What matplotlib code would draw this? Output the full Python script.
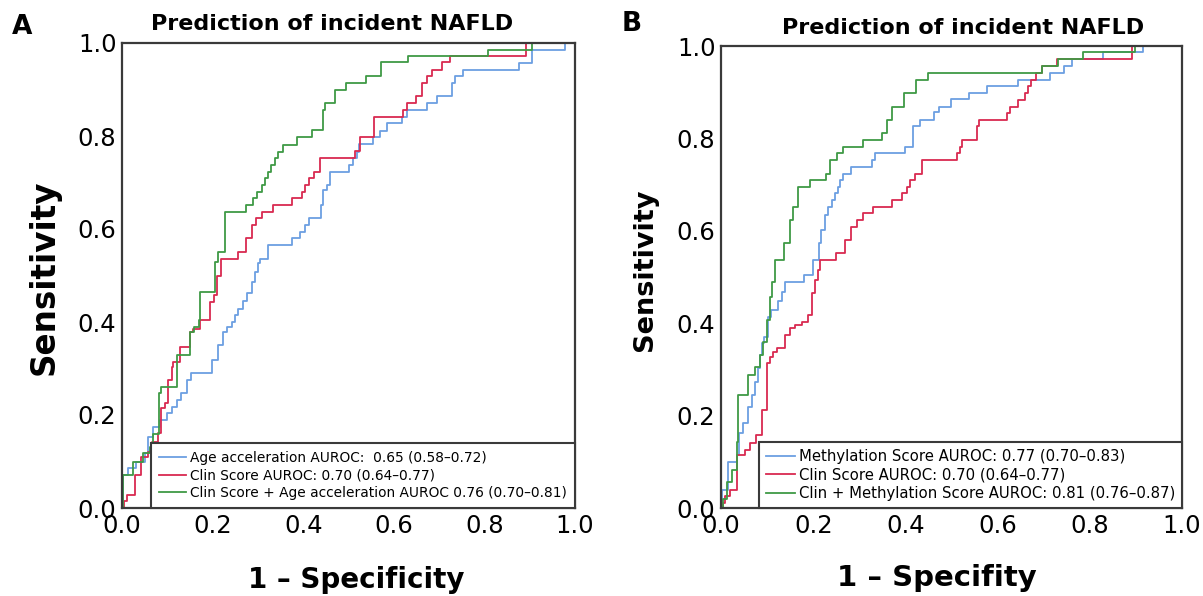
import matplotlib
matplotlib.use("Agg")
import matplotlib.pyplot as plt

# ---- panel A: ROC step points (fpr where the curve rises, tpr after rise)
a_age_fpr = [0, 0.003, 0.014, 0.032, 0.051, 0.058, 0.069, 0.084, 0.099, 0.11, 0.121, 0.13,
             0.143, 0.152, 0.198, 0.213, 0.224, 0.231, 0.242, 0.249, 0.257, 0.268, 0.275,
             0.286, 0.294, 0.301, 0.305, 0.323, 0.375, 0.393, 0.404, 0.412, 0.439, 0.444,
             0.452, 0.459, 0.502, 0.51, 0.518, 0.524, 0.555, 0.57, 0.584, 0.617, 0.63,
             0.673, 0.695, 0.728, 0.735, 0.753, 0.877, 0.904, 0.979, 1.0]
a_age_tpr = [0, 0.071, 0.085, 0.10, 0.118, 0.153, 0.175, 0.189, 0.204, 0.218, 0.232, 0.247,
             0.275, 0.29, 0.318, 0.351, 0.379, 0.39, 0.40, 0.415, 0.429, 0.445, 0.462,
             0.487, 0.508, 0.526, 0.535, 0.566, 0.58, 0.594, 0.609, 0.623, 0.652, 0.684,
             0.695, 0.723, 0.738, 0.752, 0.766, 0.782, 0.797, 0.811, 0.827, 0.841, 0.856,
             0.87, 0.885, 0.913, 0.928, 0.942, 0.956, 0.986, 1.0, 1.0]

a_clin_fpr = [0, 0.004, 0.01, 0.029, 0.043, 0.058, 0.066, 0.080, 0.087, 0.095, 0.102, 0.11,
              0.113, 0.128, 0.15, 0.157, 0.172, 0.194, 0.202, 0.209, 0.218, 0.255, 0.274,
              0.288, 0.295, 0.308, 0.334, 0.375, 0.397, 0.405, 0.413, 0.424, 0.437, 0.514,
              0.525, 0.556, 0.621, 0.63, 0.649, 0.662, 0.673, 0.685, 0.707, 0.724, 0.892, 1.0]
a_clin_tpr = [0, 0.014, 0.028, 0.071, 0.11, 0.121, 0.143, 0.161, 0.214, 0.225, 0.275, 0.304,
              0.315, 0.347, 0.379, 0.386, 0.404, 0.444, 0.458, 0.50, 0.535, 0.551, 0.58,
              0.609, 0.623, 0.637, 0.652, 0.666, 0.68, 0.695, 0.709, 0.723, 0.753, 0.768,
              0.797, 0.84, 0.856, 0.87, 0.885, 0.915, 0.929, 0.943, 0.959, 0.972, 1.0, 1.0]

a_comb_fpr = [0, 0.003, 0.025, 0.047, 0.062, 0.069, 0.082, 0.087, 0.121, 0.150, 0.158, 0.169,
              0.172, 0.205, 0.213, 0.227, 0.274, 0.29, 0.297, 0.308, 0.316, 0.323, 0.330,
              0.338, 0.345, 0.355, 0.387, 0.42, 0.443, 0.448, 0.47, 0.494, 0.539, 0.572,
              0.632, 0.809, 0.904, 1.0]
a_comb_tpr = [0, 0.071, 0.10, 0.118, 0.132, 0.16, 0.247, 0.26, 0.329, 0.379, 0.39, 0.404,
              0.465, 0.53, 0.551, 0.637, 0.652, 0.666, 0.68, 0.695, 0.709, 0.723, 0.738,
              0.752, 0.766, 0.781, 0.797, 0.813, 0.856, 0.87, 0.899, 0.915, 0.93, 0.959,
              0.972, 0.986, 1.0, 1.0]

# ---- panel B
b_meth_fpr = [0, 0.002, 0.016, 0.034, 0.038, 0.048, 0.059, 0.067, 0.074, 0.081, 0.085, 0.09,
              0.094, 0.103, 0.108, 0.124, 0.133, 0.139, 0.179, 0.2, 0.213, 0.218, 0.226,
              0.233, 0.24, 0.247, 0.254, 0.258, 0.265, 0.283, 0.327, 0.334, 0.399, 0.417,
              0.432, 0.461, 0.472, 0.498, 0.537, 0.576, 0.645, 0.714, 0.743, 0.761, 0.829,
              0.916, 1.0]
b_meth_tpr = [0, 0.039, 0.10, 0.115, 0.162, 0.183, 0.219, 0.245, 0.273, 0.302, 0.331, 0.357,
              0.37, 0.414, 0.429, 0.447, 0.468, 0.49, 0.504, 0.537, 0.573, 0.602, 0.634,
              0.652, 0.667, 0.681, 0.695, 0.71, 0.724, 0.739, 0.753, 0.768, 0.782, 0.826,
              0.84, 0.858, 0.869, 0.885, 0.899, 0.913, 0.927, 0.942, 0.957, 0.971, 0.986,
              1.0, 1.0]

b_clin_fpr = [0, 0.005, 0.009, 0.02, 0.034, 0.052, 0.063, 0.077, 0.088, 0.099, 0.106, 0.113,
              0.121, 0.139, 0.15, 0.161, 0.175, 0.189, 0.197, 0.204, 0.21, 0.215, 0.249,
              0.269, 0.283, 0.294, 0.307, 0.329, 0.37, 0.392, 0.403, 0.41, 0.421, 0.435,
              0.511, 0.518, 0.522, 0.555, 0.56, 0.62, 0.627, 0.645, 0.659, 0.667, 0.672,
              0.683, 0.697, 0.728, 0.891, 1.0]
b_clin_tpr = [0, 0.011, 0.025, 0.039, 0.115, 0.126, 0.14, 0.158, 0.212, 0.313, 0.327, 0.338,
              0.346, 0.374, 0.389, 0.396, 0.403, 0.418, 0.465, 0.494, 0.515, 0.537, 0.551,
              0.58, 0.609, 0.623, 0.638, 0.652, 0.667, 0.681, 0.695, 0.71, 0.724, 0.753,
              0.768, 0.782, 0.797, 0.826, 0.84, 0.854, 0.869, 0.883, 0.898, 0.913, 0.927,
              0.942, 0.957, 0.971, 1.0, 1.0]

b_comb_fpr = [0, 0.004, 0.012, 0.023, 0.034, 0.036, 0.059, 0.074, 0.085, 0.092, 0.099, 0.106,
              0.11, 0.117, 0.137, 0.15, 0.157, 0.168, 0.192, 0.228, 0.236, 0.251, 0.265,
              0.307, 0.349, 0.361, 0.37, 0.397, 0.424, 0.45, 0.697, 0.732, 0.785, 0.898, 1.0]
b_comb_tpr = [0, 0.02, 0.057, 0.082, 0.143, 0.245, 0.288, 0.306, 0.331, 0.36, 0.407, 0.457,
              0.49, 0.537, 0.573, 0.623, 0.652, 0.695, 0.71, 0.724, 0.753, 0.768, 0.782,
              0.797, 0.812, 0.84, 0.869, 0.898, 0.926, 0.942, 0.957, 0.971, 0.986, 1.0, 1.0]

a_labels = ["Age acceleration AUROC:  0.65 (0.58\u20130.72)",
            "Clin Score AUROC: 0.70 (0.64\u20130.77)",
            "Clin Score + Age acceleration AUROC 0.76 (0.70\u20130.81)"]
b_labels = ["Methylation Score AUROC: 0.77 (0.70\u20130.83)",
            "Clin Score AUROC: 0.70 (0.64\u20130.77)",
            "Clin + Methylation Score AUROC: 0.81 (0.76\u20130.87)"]

blue = "#6c9fe2"
red = "#d92a50"
green = "#3f9a45"
ticks = [0.0, 0.2, 0.4, 0.6, 0.8, 1.0]

fig = plt.figure(figsize=(12.03, 5.96), dpi=100)
axA = fig.add_axes([122/1203, 1-508/596, 453/1203, 465/596])
axB = fig.add_axes([721/1203, 1-508/596, 461/1203, 462/596])


def draw(ax, curves, labels, title_x, legsize, bpad):
    for (x, y), c in zip(curves, [blue, red, green]):
        ax.step(x, y, where='post', color=c, lw=1.3)
    ax.set_xlim(0, 1)
    ax.set_ylim(0, 1)
    ax.set_xticks(ticks)
    ax.set_yticks(ticks)
    ax.set_xticklabels(["%.1f" % t for t in ticks])
    ax.set_yticklabels(["%.1f" % t for t in ticks])
    ax.tick_params(length=0, labelsize=17.5, pad=4)
    for s in ax.spines.values():
        s.set_color("#3a3a3a")
        s.set_linewidth(1.6)
    leg = ax.legend(labels, loc='lower right', bbox_to_anchor=(1, 0), borderaxespad=0,
                    fancybox=False, framealpha=1, edgecolor="#3a3a3a", fontsize=legsize,
                    handlelength=2.0, handletextpad=0.25, labelspacing=0.25,
                    borderpad=bpad)
    leg.get_frame().set_linewidth(1.5)
    ax.set_title("Prediction of incident NAFLD", fontsize=16, fontweight='bold',
                 x=title_x, pad=9)


draw(axA, [(a_age_fpr, a_age_tpr), (a_clin_fpr, a_clin_tpr), (a_comb_fpr, a_comb_tpr)],
     a_labels, 0.464, 9.9, 0.6)
draw(axB, [(b_meth_fpr, b_meth_tpr), (b_clin_fpr, b_clin_tpr), (b_comb_fpr, b_comb_tpr)],
     b_labels, 0.525, 10.7, 0.45)

fig.text(22/1203, 1-27/596, "A", fontsize=19, fontweight='bold', ha='center', va='center')
fig.text(632/1203, 1-24/596, "B", fontsize=19, fontweight='bold', ha='center', va='center')
fig.text(44/1203, 1-277/596, "Sensitivity", fontsize=23.5, fontweight='bold',
         rotation=90, ha='center', va='center')
fig.text(645/1203, 1-270/596, "Sensitivity", fontsize=19.5, fontweight='bold',
         rotation=90, ha='center', va='center')
fig.text(356/1203, 1-580/596, "1 \u2013 Specificity", fontsize=20, fontweight='bold',
         ha='center', va='center')
fig.text(937/1203, 1-578/596, "1 \u2013 Specifity", fontsize=21, fontweight='bold',
         ha='center', va='center')

fig.savefig("out.png", dpi=100)
